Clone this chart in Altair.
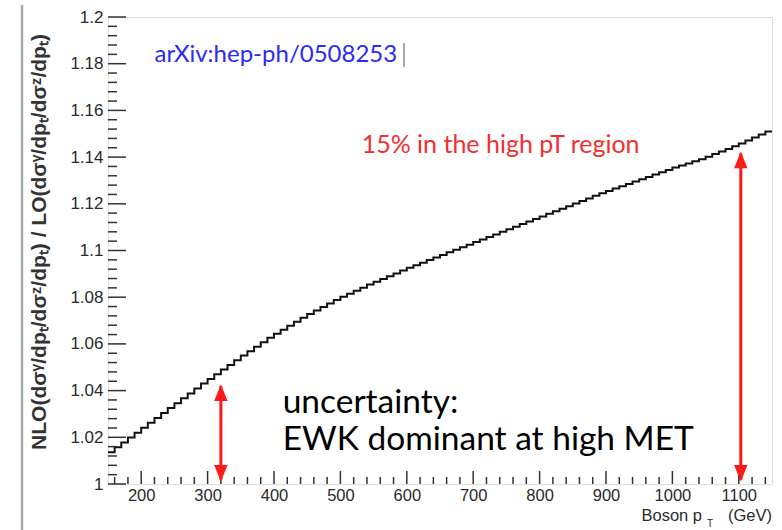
import altair as alt
import pandas as pd

# ---------------- data ----------------
bin_lo = [150 + 10 * i for i in range(100)]  # 10 GeV bins, 150..1150
ratio = [
    1.0136, 1.0157, 1.0178, 1.0199, 1.0220,
    1.0241, 1.0262, 1.0283, 1.0304, 1.0325,
    1.0346, 1.0367, 1.0388, 1.0409, 1.0430,
    1.0450, 1.0470, 1.0490, 1.0510, 1.0530,
    1.0550, 1.0569, 1.0588, 1.0607, 1.0626,
    1.0644, 1.0661, 1.0678, 1.0695, 1.0712,
    1.0728, 1.0743, 1.0758, 1.0773, 1.0788,
    1.0802, 1.0815, 1.0828, 1.0841, 1.0854,
    1.0866, 1.0878, 1.0890, 1.0902, 1.0914,
    1.0926, 1.0937, 1.0948, 1.0959, 1.0970,
    1.0981, 1.0992, 1.1003, 1.1014, 1.1025,
    1.1036, 1.1047, 1.1058, 1.1069, 1.1080,
    1.1091, 1.1102, 1.1113, 1.1124, 1.1135,
    1.1146, 1.1157, 1.1168, 1.1179, 1.1190,
    1.1201, 1.1212, 1.1223, 1.1234, 1.1245,
    1.1255, 1.1265, 1.1275, 1.1285, 1.1295,
    1.1305, 1.1315, 1.1325, 1.1335, 1.1345,
    1.1355, 1.1364, 1.1373, 1.1382, 1.1391,
    1.1402, 1.1413, 1.1424, 1.1435, 1.1446,
    1.1458, 1.1471, 1.1484, 1.1497, 1.1510,
]

x_major = [200, 300, 400, 500, 600, 700, 800, 900, 1000, 1100]
x_minor = [v for v in range(160, 1150, 20) if v % 100 != 0]
y_major = [1.0, 1.02, 1.04, 1.06, 1.08, 1.1, 1.12, 1.14, 1.16, 1.18, 1.2]
y_minor = [round(1.0 + 0.004 * i, 3) for i in range(1, 50) if i % 5 != 0]

arrow_x = [320, 1103]
arrow_top = [1.042, 1.1416]
arrow_bot = [1.0017, 1.0017]

W, H = 664, 467
xs = alt.Scale(domain=[150, 1150], nice=False, zero=False)
ys = alt.Scale(domain=[1.0, 1.2], nice=False, zero=False)

AX_FONT = "Liberation Sans"
LAB_COL = "#2a2a2a"

AXX = alt.Axis(values=x_major, ticks=False, domain=False, grid=False, format="d",
               labelFont=AX_FONT, labelFontSize=16.5, labelColor=LAB_COL,
               labelPadding=3, title=None, labelFlush=False)
AXY = alt.Axis(values=y_major, ticks=False, domain=False, grid=False,
               format="~g", labelFont=AX_FONT, labelFontSize=17,
               labelColor=LAB_COL, labelPadding=5, title=None, labelFlush=False)

def X(f):
    return alt.X(f, scale=xs, axis=AXX)

def Y(f):
    return alt.Y(f, scale=ys, axis=AXY)

hist = pd.DataFrame({"pt": bin_lo + [1150], "r": ratio + [ratio[-1]]})

line = alt.Chart(hist).mark_line(interpolate="step-after", color="#111111",
                                 strokeWidth=2).encode(x=X("pt:Q"), y=Y("r:Q"))

def xticks(vals, length):
    return alt.Chart(pd.DataFrame({"v": vals})).mark_rule(
        color="#333333", strokeWidth=1.5).encode(
        x=X("v:Q"), y=alt.value(H), y2=alt.value(H - length))

def yticks(vals, length):
    return alt.Chart(pd.DataFrame({"v": vals})).mark_rule(
        color="#333333", strokeWidth=1.5).encode(
        y=Y("v:Q"), x=alt.value(0), x2=alt.value(length))

arrows_df = pd.DataFrame({"x": arrow_x, "top": arrow_top, "bot": arrow_bot})
arrow_shaft = alt.Chart(arrows_df).mark_rule(color="#ff1a1a", strokeWidth=3).encode(
    x=X("x:Q"), y=Y("top:Q"), y2="bot:Q")
head_up = alt.Chart(arrows_df).mark_point(
    shape="M0,-0.1L-0.45,1L0.45,1Z", filled=True, color="#ff1a1a", opacity=1,
    size=900, strokeWidth=0).encode(x=X("x:Q"), y=Y("top:Q"))
head_dn = alt.Chart(arrows_df).mark_point(
    shape="M0,0.1L-0.45,-1L0.45,-1Z", filled=True, color="#ff1a1a", opacity=1,
    size=900, strokeWidth=0).encode(x=X("x:Q"), y=Y("bot:Q"))

notes = pd.DataFrame({
    "x": [220, 532, 413, 413],
    "y": [1.1837, 1.1452, 1.0347, 1.0188],
    "t": ["arXiv:hep-ph/0508253", "15% in the high pT region",
          "uncertainty:", "EWK dominant at high MET"],
})

def note(i, color, size, font):
    return alt.Chart(notes.iloc[[i]]).mark_text(
        align="left", baseline="middle", color=color, fontSize=size, font=font).encode(
        x=X("x:Q"), y=Y("y:Q"), text="t:N")

one = pd.DataFrame({"a": [0]})
ytitle = alt.Chart(one).mark_text(
    text="NLO(dσᵞ/dpₜ/dσᶻ/dpₜ)  /  LO(dσᵞ/dpₜ/dσᶻ/dpₜ)",
    angle=270, align="center", baseline="middle", font=AX_FONT,
    fontSize=21, fontWeight="bold", color="#333333").encode(
    x=alt.value(-68), y=alt.value(225))
xtitle1 = alt.Chart(one).mark_text(
    text="Boson p", align="right", baseline="middle", font=AX_FONT,
    fontSize=16.5, color=LAB_COL).encode(x=alt.value(594), y=alt.value(499))
xtitle2 = alt.Chart(one).mark_text(
    text="T", align="center", baseline="middle", font=AX_FONT,
    fontSize=10, color=LAB_COL).encode(x=alt.value(602), y=alt.value(507))
xtitle3 = alt.Chart(one).mark_text(
    text="(GeV)", align="right", baseline="middle", font=AX_FONT,
    fontSize=16.5, color=LAB_COL).encode(x=alt.value(664), y=alt.value(499))
cursor = alt.Chart(one).mark_rule(color="#555555", strokeWidth=1).encode(
    x=alt.value(296), y=alt.value(26), y2=alt.value(50))
slide_line = alt.Chart(one).mark_rule(color="#a3abab", strokeWidth=2.5).encode(
    x=alt.value(-86), y=alt.value(-12), y2=alt.value(520))

chart = alt.layer(
    line,
    slide_line,
    xticks(x_minor, 7), xticks(x_major, 13),
    yticks(y_minor, 9), yticks(y_major, 18),
    arrow_shaft, head_up, head_dn,
    note(0, "#2b2bf5", 24, "Lato"),
    note(1, "#f03030", 25, "Lato"),
    note(2, "#000000", 33.5, "Lato"),
    note(3, "#000000", 33.5, "Lato"),
    ytitle, xtitle1, xtitle2, xtitle3, cursor,
).properties(
    width=W, height=H,
    autosize=alt.AutoSizeParams(type="none"),
    padding={"left": 108, "top": 17, "right": 10, "bottom": 46},
).configure_view(stroke="#333333", strokeWidth=2).configure(background="white")

chart.save("out.html", embed_options={"renderer": "svg", "actions": False})
